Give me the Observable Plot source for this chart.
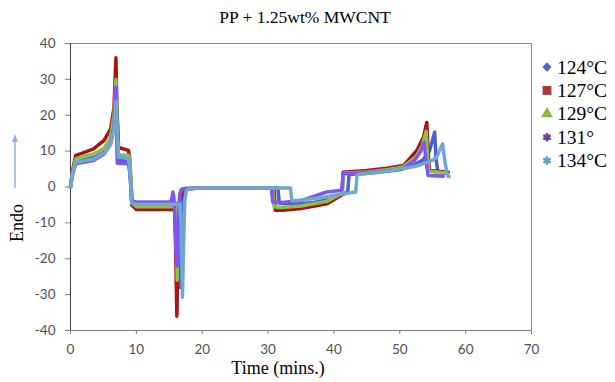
<!DOCTYPE html>
<html><head><meta charset="utf-8">
<script src="https://cdn.jsdelivr.net/npm/d3@7"></script>
<script src="https://cdn.jsdelivr.net/npm/@observablehq/plot@0.6"></script>
<style>body{margin:0;background:#fff}</style>
</head><body><div id="chart"></div>
<script>
// Series labels and colours
const seriesNames = ["124°C", "127°C", "129°C", "131°", "134°C"];
const seriesColors = ["#4a60cc", "#a81414", "#8fc046", "#8055f0", "#6ea8d0"];

// Time (mins.) and heat-flow values
const t124 = [0, 0.3, 0.8, 2, 3.5, 5, 6.1, 6.6, 6.9, 7.05, 7.2, 8.8, 9.0, 9.4, 10, 13, 16.3, 16.5, 16.7, 16.9, 17.2, 17.6, 20, 31.5, 31.7, 34, 37, 39, 41.5, 42.1, 42.3, 46, 50, 52, 53.5, 54.5, 55.3, 55.5, 55.8, 57.2];
const v124 = [0, 3.5, 7, 7.6, 8.2, 9.6, 12.5, 17, 26, 15, 7.5, 7.2, 5, -4, -4.5, -4.5, -4.5, -10, -28, -15, -3, -0.5, -0.3, -0.3, -4.5, -4.8, -4.3, -3.5, -2, -1.2, 3.5, 4, 4.8, 6, 7.5, 10, 15.3, 8, 4, 3.8];

const t127 = [0, 0.3, 0.8, 2, 3.5, 5.1, 6.1, 6.6, 6.9, 7.05, 7.3, 8.8, 9.0, 9.3, 10, 13, 15.8, 15.95, 16.15, 16.35, 16.6, 17.0, 17.6, 20, 30.9, 31.1, 32.2, 35, 38.9, 40.7, 41.2, 41.4, 45, 48, 50.6, 52.6, 53.6, 54.1, 54.3, 54.5, 57.4];
const v127 = [0, 4.5, 8.8, 9.6, 10.6, 13, 16.2, 22, 36, 22, 11, 10.2, 8, -5, -6.3, -6.3, -6.3, -15, -36, -18, -4, -1, -0.5, -0.3, -0.3, -6.5, -6.5, -6, -4.7, -2.8, -2.2, 4.1, 4.6, 5.2, 6, 10.2, 13.9, 18, 10, 4.6, 4.1];

const t129 = [0, 0.3, 0.8, 2, 3.5, 5.1, 6.1, 6.6, 6.9, 7.05, 7.3, 8.85, 9.05, 9.35, 10, 13, 15.9, 16.05, 16.2, 16.4, 16.55, 16.8, 17.3, 20, 30.7, 30.9, 32, 35, 38.9, 40.8, 41.3, 41.5, 45, 48, 50.5, 52.5, 53.4, 54.0, 54.2, 54.4, 57.3];
const v129 = [0, 4, 7.8, 8.5, 9.2, 10.8, 14, 20, 30, 18, 9, 8.8, 6.5, -4.5, -5.5, -5.5, -5.5, -12, -26, -10, -2, -0.6, -0.4, -0.3, -0.3, -5.5, -5.7, -5.3, -4, -2.2, -1.8, 3.8, 4.2, 4.8, 5.6, 8.5, 11.5, 15.5, 9, 4.3, 3.9];

const t131 = [0, 0.3, 0.8, 2, 3.5, 5.1, 6.1, 6.6, 6.9, 7.0, 7.1, 8.8, 9.0, 9.3, 10, 13, 15.2, 15.4, 15.55, 15.7, 15.85, 16.0, 16.2, 16.4, 16.6, 17.0, 17.5, 20, 30.5, 30.7, 32, 35, 38.9, 40.9, 41.2, 41.4, 45, 48, 50.5, 52.3, 53.2, 53.7, 54.0, 54.3, 56.6];
const v131 = [0, 3.5, 6.5, 6.9, 7.4, 9.2, 12, 17, 27.8, 15, 6.6, 6.5, 4, -3.8, -4.2, -4.2, -4.2, -3, -1.4, -3, -8, -18, -22, -10, -2, -0.6, -0.4, -0.3, -0.3, -4.2, -4.3, -3.8, -1.4, -1, -0.8, 3.7, 4, 4.5, 5.2, 7.5, 10, 12.5, 7, 3.2, 3.0];

const t134 = [0, 0.3, 0.8, 2, 3.5, 5.1, 6.1, 6.6, 6.95, 7.1, 7.3, 8.8, 9.0, 9.3, 10, 13, 16.6, 16.8, 17.0, 17.15, 17.35, 17.6, 18.0, 20, 33.4, 33.6, 35, 38, 41, 43.3, 43.5, 43.7, 47, 50, 52.5, 53.6, 55, 55.6, 56.0, 56.5, 56.9, 57.3, 57.5];
const v134 = [0, 3.5, 6.9, 7.3, 7.8, 9.5, 12, 16, 24, 14, 8.3, 8, 5.5, -4.5, -4.8, -4.8, -4.8, -10, -30.7, -18, -4, -1, -0.5, -0.3, -0.3, -3.8, -3.6, -3, -2, -1.4, 3.2, 3.5, 4.2, 5, 5.8, 6.5, 7.5, 8.3, 10, 12, 6.5, 3, 2.9];

// Axis ticks
const xTicks = [0, 10, 20, 30, 40, 50, 60, 70];
const yTicks = [-40, -30, -20, -10, 0, 10, 20, 30, 40];

const seriesT = [t124, t127, t129, t131, t134];
const seriesV = [v124, v127, v129, v131, v134];
const rows = seriesT.map((ts, k) => ts.map((t, i) => ({t, v: seriesV[k][i], s: seriesNames[k]})));

const W = 615, H = 382;
const plot = Plot.plot({
  width: W, height: H,
  marginLeft: 70, marginRight: 84, marginTop: 43, marginBottom: 52,
  style: {fontFamily: "Lato, 'Open Sans', sans-serif", fontSize: "13.5px", color: "#505050", background: "#fff"},
  x: {domain: [0, 70], label: null},
  y: {domain: [-40, 40], label: null},
  marks: [
    Plot.ruleY([40], {stroke: "#8c8c8c", strokeWidth: 1}),
    Plot.ruleX([70], {stroke: "#8c8c8c", strokeWidth: 1}),
    Plot.axisY({ticks: yTicks, tickSize: 5, tickPadding: 10, stroke: "#7f7f7f", label: null, tickFormat: d => String(d)}),
    Plot.axisX({ticks: xTicks, tickSize: 4, tickPadding: 10, stroke: "#7f7f7f", label: null, tickFormat: d => String(d)}),
    Plot.ruleY([-40], {stroke: "#7f7f7f", strokeWidth: 1}),
    Plot.ruleX([0], {stroke: "#404040", strokeWidth: 1}),
    ...rows.map((r, k) => Plot.line(r, {x: "t", y: "v", stroke: seriesColors[k], strokeWidth: 3.5, strokeLinejoin: "round", strokeLinecap: "round"}))
  ]
});
document.getElementById("chart").appendChild(plot);

const svg = d3.select(plot);
const serif = "'Liberation Serif', 'Times New Roman', serif";
// Title
svg.append("text").attr("x", 305).attr("y", 23).attr("text-anchor", "middle")
  .style("font-family", serif).style("font-size", "17.5px").attr("fill", "#000")
  .text("PP + 1.25wt% MWCNT");
// X label
svg.append("text").attr("x", 278).attr("y", 374).attr("text-anchor", "middle")
  .style("font-family", serif).style("font-size", "18px").attr("fill", "#000")
  .text("Time (mins.)");
// Y label
svg.append("text").attr("transform", "translate(23,223) rotate(-90)").attr("text-anchor", "middle")
  .style("font-family", serif).style("font-size", "18px").attr("fill", "#000")
  .text("Endo");
// Endo arrow
svg.append("line").attr("x1", 15).attr("x2", 15).attr("y1", 188).attr("y2", 140)
  .attr("stroke", "#8fb0e0").attr("stroke-width", 1.5);
svg.append("path").attr("d", "M15,134 L12,142 L18,142 Z").attr("fill", "#8fb0e0");

// Legend
const symbols = [d3.symbolDiamond2, d3.symbolSquare, d3.symbolTriangle, d3.symbolAsterisk, d3.symbolAsterisk];
const symSizes = [55, 80, 60, 50, 50];
const legColors = ["#4468c4", "#a83a3a", "#8fb640", "#6e3fa0", "#5f9fc8"];
seriesNames.forEach((name, i) => {
  const y = 67 + i * 23.4;
  const stroked = i >= 3;
  svg.append("path").attr("transform", `translate(547,${y})`)
    .attr("d", d3.symbol().type(symbols[i]).size(symSizes[i])())
    .attr("fill", stroked ? "none" : legColors[i])
    .attr("stroke", stroked ? legColors[i] : "none")
    .attr("stroke-width", stroked ? 2.5 : 0);
  svg.append("text").attr("x", 557).attr("y", y + 6.5).attr("text-anchor", "start")
    .style("font-family", serif).style("font-size", "19.5px").attr("fill", "#000")
    .text(name);
});
</script></body></html>
